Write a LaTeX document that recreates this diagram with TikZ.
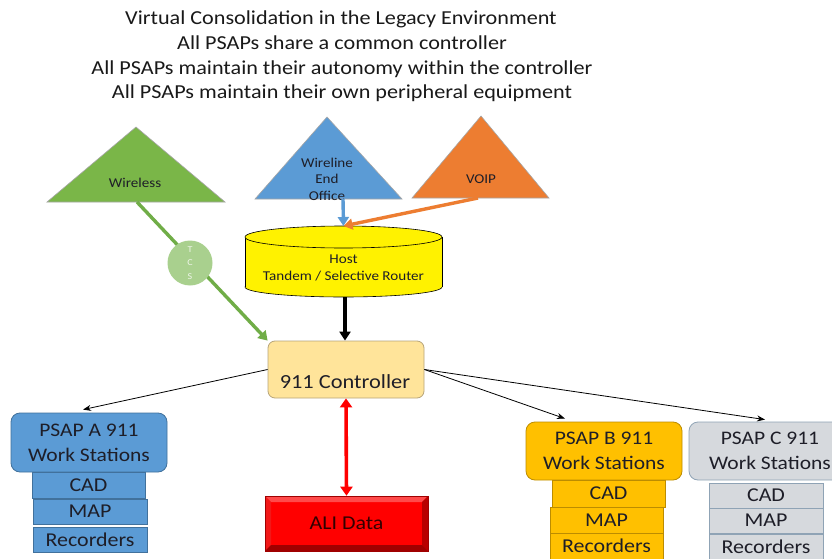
\documentclass[tikz,border=0pt]{standalone}
\usepackage{fontspec}
\setmainfont{Carlito}[FakeStretch=1.12]
\usetikzlibrary{arrows.meta}

\definecolor{wlgreen}{HTML}{7AB648}
\definecolor{lnkgreen}{HTML}{70AD47}
\definecolor{tcsgreen}{HTML}{A9D08E}
\definecolor{tcstext}{HTML}{EEF5E8}
\definecolor{offblue}{HTML}{5B9BD5}
\definecolor{offblueedge}{HTML}{41719C}
\definecolor{voiporange}{HTML}{ED7D31}
\definecolor{ctrlfill}{HTML}{FFE49A}
\definecolor{ctrledge}{HTML}{B8A57A}
\definecolor{bfill}{HTML}{FFC000}
\definecolor{bedge}{HTML}{BC8C00}
\definecolor{cfill}{HTML}{D6D9DD}
\definecolor{cedge}{HTML}{8FA3B5}
\definecolor{alired}{HTML}{FF0000}
\definecolor{alitop}{HTML}{FF4A4A}
\definecolor{alileft}{HTML}{F21818}
\definecolor{aliright}{HTML}{B80000}
\definecolor{alibottom}{HTML}{A00000}
\definecolor{inktext}{HTML}{1E1E28}

\tikzset{
  titleline/.style={anchor=base, font=\fontsize{19.8}{24}\selectfont, text=black!90},
  tri/.style={draw=black!35, line width=0.6pt},
  trilabel/.style={font=\fontsize{13.5}{16.5}\selectfont, text=inktext, align=center},
  psap/.style={draw=#1, line width=0.8pt, rounded corners=9pt, inner sep=0pt,
    align=center, font=\fontsize{19.2}{25}\selectfont, text=inktext},
  peri/.style={draw=#1, line width=0.8pt, inner sep=0pt,
    font=\fontsize{19.6}{23}\selectfont, text=inktext},
  feed/.style={line width=0.8pt, -{Stealth[length=8pt,width=6pt]}},
  fat/.style={line width=3.4pt, -{Triangle[length=9pt,width=11pt]}}
}

\begin{document}
\begin{tikzpicture}[x=1pt,y=-1pt]
\useasboundingbox (0,0) rectangle (832,559);
\fill[white] (0,0) rectangle (832,559);

% heading
\node[titleline] (t1) at (341,25) {Virtual Consolidation in the Legacy Environment};
\node[titleline] (t2) at (342,50) {All PSAPs share a common controller};
\node[titleline] (t3) at (342,75) {All PSAPs maintain their autonomy within the controller};
\node[titleline] (t4) at (342,99) {All PSAPs maintain their own peripheral equipment};

% call sources
\path[tri, fill=wlgreen] (47,202) -- (136,127) -- (225,202) -- cycle;
\node[trilabel] (wireless) at (135,183) {Wireless};
\path[tri, fill=offblue] (255,199) -- (327,117) -- (402,199) -- cycle;
\node[trilabel] (wireline) at (327,179) {Wireline\\End\\Office};
\path[tri, fill=voiporange] (412,198) -- (481,116) -- (549,198) -- cycle;
\node[trilabel] (voip) at (481,179) {VOIP};

\coordinate (wlout) at (137,202);
\coordinate (eoout) at (343,199);
\coordinate (voipout) at (478,198);

% host tandem / selective router drum
\fill[yellow, draw=black, line width=0.6pt] (343.5,287) ellipse [x radius=98.5, y radius=10];
\fill[yellow] (245,237) rectangle (442,287);
\draw[line width=0.6pt] (245,237) -- (245,287) (442,237) -- (442,287);
\fill[yellow, draw=black, line width=0.6pt] (343.5,237) ellipse [x radius=98.5, y radius=11];
\node[trilabel] (host) at (343.5,268) {Host\\Tandem / Selective Router};
\coordinate (hosttop) at (343.5,226);
\coordinate (hostbot) at (345,297);

% controller
\node[draw=ctrledge, fill=ctrlfill, line width=0.8pt, rounded corners=7pt,
      minimum width=156pt, minimum height=57pt, inner sep=0pt] (ctrl) at (346,369.5) {};
\node[anchor=base, font=\fontsize{20}{23}\selectfont, text=inktext] (ctrltext) at (345,388) {911 Controller};

% ALI database
\node[minimum width=163pt, minimum height=55pt, inner sep=0pt, fill=alired,
      draw=alibottom, line width=0.6pt,
      font=\fontsize{19.6}{23}\selectfont, text=black!80!red,
      path picture={
        \fill[alitop] (path picture bounding box.north west) -- (path picture bounding box.north east)
          -- ([shift={(-6pt,-6pt)}]path picture bounding box.north east)
          -- ([shift={(6pt,-6pt)}]path picture bounding box.north west) -- cycle;
        \fill[alileft] (path picture bounding box.north west) -- (path picture bounding box.south west)
          -- ([shift={(6pt,6pt)}]path picture bounding box.south west)
          -- ([shift={(6pt,-6pt)}]path picture bounding box.north west) -- cycle;
        \fill[aliright] (path picture bounding box.north east) -- (path picture bounding box.south east)
          -- ([shift={(-6pt,6pt)}]path picture bounding box.south east)
          -- ([shift={(-6pt,-6pt)}]path picture bounding box.north east) -- cycle;
        \fill[alibottom] (path picture bounding box.south west) -- (path picture bounding box.south east)
          -- ([shift={(-6pt,6pt)}]path picture bounding box.south east)
          -- ([shift={(6pt,6pt)}]path picture bounding box.south west) -- cycle;
      }] (ali) at (346.5,523.5) {ALI Data};

% PSAP A
\node[psap=offblueedge, fill=offblue, minimum width=156pt, minimum height=59pt] (psapA) at (89,442.5) {PSAP A 911\\Work Stations};
\node[peri=offblueedge, fill=offblue, minimum width=113pt, minimum height=26pt] (cadA) at (88.5,485) {CAD};
\node[peri=offblueedge, fill=offblue, minimum width=114pt, minimum height=25pt] (mapA) at (90,511.5) {MAP};
\node[peri=offblueedge, fill=offblue, minimum width=114pt, minimum height=25pt] (recA) at (90,539.5) {Recorders};

% PSAP B
\node[psap=bedge, fill=bfill, minimum width=156pt, minimum height=58pt] (psapB) at (604,451) {PSAP B 911\\Work Stations};
\node[peri=bedge, fill=bfill, minimum width=113pt, minimum height=27pt] (cadB) at (608.5,493.5) {CAD};
\node[peri=bedge, fill=bfill, minimum width=113pt, minimum height=26pt] (mapB) at (606.5,520) {MAP};
\node[peri=bedge, fill=bfill, minimum width=113pt, minimum height=26pt] (recB) at (606.5,546) {Recorders};

% PSAP C
\node[psap=cedge, fill=cfill, minimum width=162pt, minimum height=58pt] (psapC) at (770,451) {PSAP C 911\\Work Stations};
\node[peri=cedge, fill=cfill, minimum width=114pt, minimum height=25pt] (cadC) at (766,495.5) {CAD};
\node[peri=cedge, fill=cfill, minimum width=114pt, minimum height=25pt] (mapC) at (766,520.5) {MAP};
\node[peri=cedge, fill=cfill, minimum width=114pt, minimum height=25pt] (recC) at (766,546.5) {Recorders};

% trunks into the router and controller
\draw[fat, lnkgreen] (wlout) -- (ctrl.north west);
\node[circle, fill=tcsgreen, minimum size=45pt, inner sep=0pt, align=center,
      font=\fontsize{9}{13.5}\selectfont, text=tcstext] (tcs) at (190,263) {T\\C\\S};
\draw[fat, offblue] (eoout) -- (hosttop);
\draw[fat, voiporange] (voipout) -- (hosttop);
\draw[fat, black] (hostbot) -- (hostbot |- ctrl.north);
\draw[line width=3.6pt, red, {Triangle[length=9pt,width=12pt]}-{Triangle[length=9pt,width=12pt]}] (ctrl.south) -- (ali.north);

% controller to PSAP positions
\draw[feed] (ctrl.west) -- ([shift={(-6pt,3pt)}]psapA.north);
\draw[feed] (ctrl.east) -- ([shift={(-39pt,3pt)}]psapB.north);
\draw[feed] (ctrl.east) -- ([shift={(-5pt,2pt)}]psapC.north);
\end{tikzpicture}
\end{document}
